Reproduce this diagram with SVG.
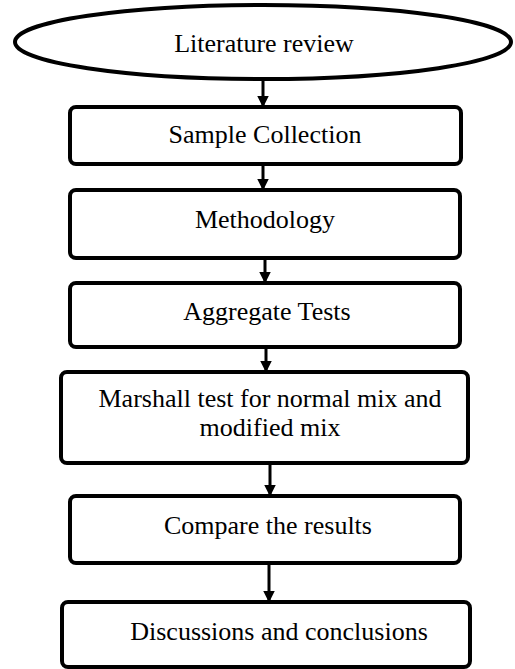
<svg xmlns="http://www.w3.org/2000/svg" width="515" height="669" viewBox="0 0 515 669">
<defs>
<marker id="ah" markerWidth="4" markerHeight="4" refX="3.5" refY="2" orient="auto" markerUnits="strokeWidth">
<path d="M0,0 L4,2 L0,4 Z" fill="#000"/>
</marker>
</defs>
<style>
.n{fill:#fff;stroke:#000;stroke-width:4}
.t{font-family:"Liberation Serif","Times New Roman",serif;font-size:26px;fill:#000;text-anchor:middle}
.c{stroke:#000;stroke-width:3;fill:none;marker-end:url(#ah)}
</style>
<rect width="515" height="669" fill="#fff"/>
<g id="connectors">
<line class="c" x1="263" y1="80" x2="263" y2="106"/>
<line class="c" x1="263" y1="166" x2="263" y2="189"/>
<line class="c" x1="265" y1="260" x2="265" y2="282"/>
<line class="c" x1="266" y1="349" x2="266" y2="371"/>
<line class="c" x1="270" y1="465" x2="270" y2="495"/>
<line class="c" x1="269" y1="565" x2="269" y2="601"/>
</g>
<g id="n1">
<ellipse class="n" cx="263" cy="42" rx="248" ry="37"/>
<text class="t" x="264" y="52">Literature review</text>
</g>
<g id="n2">
<rect class="n" x="70" y="107" width="391" height="57" rx="6"/>
<text class="t" x="265" y="143">Sample Collection</text>
</g>
<g id="n3">
<rect class="n" x="70" y="190" width="390" height="68" rx="6"/>
<text class="t" x="265" y="228">Methodology</text>
</g>
<g id="n4">
<rect class="n" x="70" y="283" width="390" height="64" rx="6"/>
<text class="t" x="267" y="320">Aggregate Tests</text>
</g>
<g id="n5">
<rect class="n" x="61" y="372" width="407" height="91" rx="6"/>
<text class="t" x="270" y="407">Marshall test for normal mix and</text>
<text class="t" x="270" y="436">modified mix</text>
</g>
<g id="n6">
<rect class="n" x="70" y="496" width="390" height="67" rx="6"/>
<text class="t" x="268" y="534">Compare the results</text>
</g>
<g id="n7">
<rect class="n" x="62" y="602" width="408" height="65" rx="6"/>
<text class="t" x="279" y="640">Discussions and conclusions</text>
</g>
</svg>
